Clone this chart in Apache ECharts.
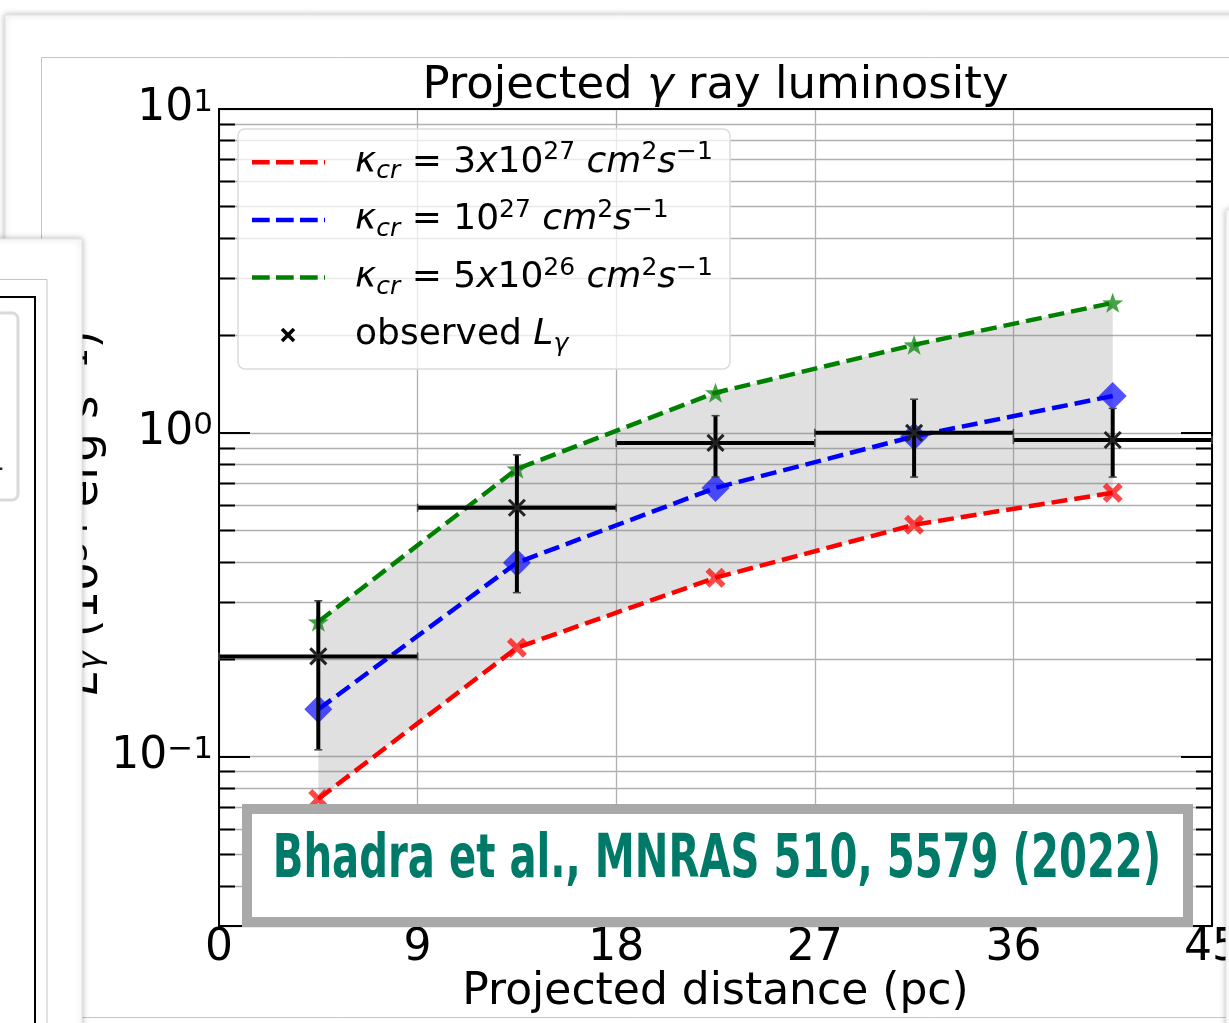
<!DOCTYPE html>
<html>
<head>
<meta charset="utf-8">
<title>Projected γ ray luminosity</title>
<script src="https://cdn.jsdelivr.net/npm/echarts@6/dist/echarts.min.js"></script>
<style>
  html, body { margin: 0; padding: 0; background: #fff; }
  #chart { width: 1229px; height: 1023px; }
</style>
</head>
<body>
<div id="chart"></div>
<script>
// Projected distance bins (pc)
const binLow = [0, 9, 18, 27, 36];
const binHigh = [9, 18, 27, 36, 45];
const binCenter = [4.5, 13.5, 22.5, 31.5, 40.5];

// Model luminosities for three cosmic-ray diffusion coefficients
const lumKappa3e27 = [0.074, 0.217, 0.357, 0.52, 0.653];
const lumKappa1e27 = [0.14, 0.397, 0.676, 0.975, 1.30];
const lumKappa5e26 = [0.261, 0.774, 1.33, 1.87, 2.52];

// Observed luminosity and its error range
const obsLum = [0.204, 0.587, 0.931, 1.0, 0.95];
const obsLumLow = [0.105, 0.321, 0.73, 0.73, 0.73];
const obsLumHigh = [0.303, 0.855, 1.13, 1.27, 1.19];

// Axis ticks
const xTicks = [0, 9, 18, 27, 36, 45];
const yRange = [0.03, 10];
const yMinorTicks = [0.04, 0.05, 0.06, 0.07, 0.08, 0.09,
                     0.2, 0.3, 0.4, 0.5, 0.6, 0.7, 0.8, 0.9,
                     2, 3, 4, 5, 6, 7, 8, 9];

const FONT = 'DejaVu Sans';
const GRID_GRAY = '#b0b0b0';

const X_PATH = 'path://M2,0 L5,3 L8,0 L10,2 L7,5 L10,8 L8,10 L5,7 L2,10 L0,8 L3,5 L0,2 Z';
const STAR_PATH = 'path://M10,0 L12.35,6.76 L19.51,6.91 L13.8,11.24 L15.88,18.09 L10,14 L4.12,18.09 L6.2,11.24 L0.49,6.91 L7.65,6.76 Z';

const chart = echarts.init(document.getElementById('chart'));

const pairs = ys => binCenter.map((x, i) => [x, ys[i]]);

// rich styles for math-like text
const legendRich = {
  n:  { fontFamily: FONT, fontSize: 36, lineHeight: 44, verticalAlign: 'middle', fill: '#000' },
  i:  { fontFamily: FONT, fontSize: 36, fontStyle: 'italic', lineHeight: 44, verticalAlign: 'middle', fill: '#000' },
  sp: { fontFamily: FONT, fontSize: 25, lineHeight: 27, verticalAlign: 'top', fill: '#000' },
  sb: { fontFamily: FONT, fontSize: 25, fontStyle: 'italic', lineHeight: 26, verticalAlign: 'bottom', fill: '#000' }
};

const legendRows = [
  { color: '#ff0000', text: '{i|κ}{sb|cr}{n| = 3}{i|x}{n|10}{sp|27}{n| }{i|cm}{sp|2}{i|s}{sp|−1}' },
  { color: '#0000ff', text: '{i|κ}{sb|cr}{n| = 10}{sp|27}{n| }{i|cm}{sp|2}{i|s}{sp|−1}' },
  { color: '#008000', text: '{i|κ}{sb|cr}{n| = 5}{i|x}{n|10}{sp|26}{n| }{i|cm}{sp|2}{i|s}{sp|−1}' },
  { color: null, text: '{n|observed }{i|L}{sb|γ}' }
];

const legendTop = 129, legendRowGap = 57.6, legendFirstRow = 162.3;
const legendGraphics = [{
  type: 'rect', z: 50, silent: true,
  shape: { x: 238, y: legendTop, width: 492, height: 240, r: 7 },
  style: { fill: 'rgba(255,255,255,0.72)', stroke: '#dcdcdc', lineWidth: 1.5 }
}];
legendRows.forEach((row, k) => {
  const cy = legendFirstRow + k * legendRowGap;
  if (row.color) {
    legendGraphics.push({
      type: 'line', z: 51, silent: true,
      shape: { x1: 252, y1: cy, x2: 325, y2: cy },
      style: { stroke: row.color, lineWidth: 4.5, lineDash: [17.7, 6.3] }
    });
  } else {
    legendGraphics.push({
      type: 'group', z: 51, silent: true, x: 288, y: cy,
      children: [
        { type: 'line', z: 51, shape: { x1: -6, y1: -6, x2: 6, y2: 6 }, style: { stroke: '#000', lineWidth: 3.5 } },
        { type: 'line', z: 51, shape: { x1: -6, y1: 6, x2: 6, y2: -6 }, style: { stroke: '#000', lineWidth: 3.5 } }
      ]
    });
  }
  legendGraphics.push({
    type: 'text', z: 52, silent: true, x: 355, y: cy,
    style: { text: row.text, rich: legendRich, align: 'left', verticalAlign: 'middle', fill: '#000' }
  });
});

// surrounding slide panels
const panelGraphics = [
  { type: 'rect', z: -10, silent: true, shape: { x: 5, y: 15, width: 1400, height: 1200 },
    style: { fill: '#fff', stroke: '#e4e4e4', lineWidth: 1, shadowBlur: 6, shadowColor: 'rgba(0,0,0,0.28)' } },
  { type: 'rect', z: -9, silent: true, shape: { x: 41.5, y: 57.5, width: 1400, height: 960 },
    style: { fill: 'none', stroke: '#c4c4c4', lineWidth: 1 } },
  // right card
  { type: 'rect', z: 90, silent: true, shape: { x: 1226, y: 210, width: 200, height: 900 },
    style: { fill: '#fff', stroke: '#e6e6e6', lineWidth: 1, shadowBlur: 6, shadowColor: 'rgba(0,0,0,0.25)' } },
  // left card
  { type: 'rect', z: 90, silent: true, shape: { x: -200, y: 239, width: 282, height: 900 },
    style: { fill: '#fff', stroke: '#e6e6e6', lineWidth: 1, shadowBlur: 6, shadowColor: 'rgba(0,0,0,0.28)' } },
  { type: 'rect', z: 91, silent: true, shape: { x: -200, y: 279.5, width: 247, height: 900 },
    style: { fill: 'none', stroke: '#c4c4c4', lineWidth: 1 } },
  { type: 'rect', z: 91, silent: true, shape: { x: -200, y: 297, width: 235, height: 900 },
    style: { fill: 'none', stroke: '#000', lineWidth: 2 } },
  { type: 'rect', z: 91, silent: true, shape: { x: -40, y: 313, width: 58, height: 187, r: 6 },
    style: { fill: 'none', stroke: '#dadada', lineWidth: 3 } },
  { type: 'text', z: 92, silent: true, x: -14, y: 462,
    style: { text: '1', fontFamily: FONT, fontSize: 30, fill: '#222', align: 'left', verticalAlign: 'middle' } }
];

// citation banner
const citationGraphics = [
  { type: 'rect', z: 100, silent: true, shape: { x: 247, y: 809, width: 941, height: 113 },
    style: { fill: '#fff', stroke: '#a9a9a9', lineWidth: 10 } },
  { type: 'text', z: 101, silent: true, x: 717, y: 861, scaleX: 0.67, scaleY: 1,
    style: { text: 'Bhadra et al., MNRAS 510, 5579 (2022)', fontFamily: FONT, fontWeight: 'bold',
             fontSize: 60, fill: '#007a68', align: 'center', verticalAlign: 'middle' } }
];

// title and vertical axis title
const titleGraphics = [
  {
    type: 'text', z: 10, silent: true, x: 715.5, y: 86.5,
    style: {
      text: '{n|Projected }{g|γ}{n| ray luminosity}', align: 'center', verticalAlign: 'middle',
      rich: {
        n: { fontFamily: FONT, fontSize: 45, lineHeight: 45, fill: '#000' },
        g: { fontFamily: FONT, fontSize: 45, fontStyle: 'italic', lineHeight: 45, fill: '#000' }
      }
    }
  },
  {
    type: 'text', z: 10, silent: true, x: 85.5, y: 513, rotation: Math.PI / 2,
    style: {
      text: '{i|L}{sb|γ}{n| (10}{sp|34}{n| erg s}{sp|−1}{n|)}', align: 'center', verticalAlign: 'middle',
      rich: {
        n:  { fontFamily: FONT, fontSize: 45, lineHeight: 45, verticalAlign: 'middle', fill: '#000' },
        i:  { fontFamily: FONT, fontSize: 45, fontStyle: 'italic', lineHeight: 45, verticalAlign: 'middle', fill: '#000' },
        sp: { fontFamily: FONT, fontSize: 32, lineHeight: 30, verticalAlign: 'top', fill: '#000' },
        sb: { fontFamily: FONT, fontSize: 32, fontStyle: 'italic', lineHeight: 30, verticalAlign: 'bottom', fill: '#000' }
      }
    }
  }
];

const yLabelRich = {
  b: { fontFamily: FONT, fontSize: 44, lineHeight: 44, verticalAlign: 'middle', color: '#000' },
  s: { fontFamily: FONT, fontSize: 31, lineHeight: 20, verticalAlign: 'top', color: '#000' }
};

function powerLabel(v) {
  const lg = Math.log10(v);
  const e = Math.round(lg);
  if (Math.abs(lg - e) > 1e-6) return '';
  return '{b|10}{s|' + (e < 0 ? '−' + (-e) : String(e)) + '}';
}

const axisBlack = { show: true, onZero: false, lineStyle: { color: '#000', width: 2 } };

const option = {
  backgroundColor: '#fff',
  animation: false,
  grid: { left: 219, top: 109, width: 993, height: 817, containLabel: false, outerBoundsMode: 'none' },
  xAxis: [
    {
      type: 'value', position: 'bottom',
      min: xTicks[0], max: xTicks[xTicks.length - 1], interval: xTicks[1] - xTicks[0],
      axisLine: axisBlack,
      axisTick: { show: true, inside: true, length: 31, lineStyle: { color: '#000', width: 2 } },
      axisLabel: { fontFamily: FONT, fontSize: 44, color: '#000', margin: 1, lineHeight: 44,
                   showMinLabel: true, showMaxLabel: true },
      splitLine: { show: true, lineStyle: { color: GRID_GRAY, width: 1.3 } },
      name: 'Projected distance (pc)', nameLocation: 'middle', nameGap: 45, nameMoveOverlap: false,
      nameTextStyle: { fontFamily: FONT, fontSize: 44, lineHeight: 44, color: '#000' }
    },
    {
      type: 'value', position: 'top',
      min: xTicks[0], max: xTicks[xTicks.length - 1], interval: xTicks[1] - xTicks[0],
      axisLine: axisBlack, axisTick: { show: false }, axisLabel: { show: false }, splitLine: { show: false }
    }
  ],
  yAxis: [
    {
      type: 'log', logBase: 10, position: 'left', min: yRange[0], max: yRange[1],
      axisLine: axisBlack,
      axisTick: { show: true, inside: true, length: 31, lineStyle: { color: '#000', width: 2 } },
      axisLabel: { formatter: powerLabel, rich: yLabelRich, margin: 6, showMinLabel: true, showMaxLabel: true },
      splitLine: { show: true, lineStyle: { color: GRID_GRAY, width: 1.3 } }
    },
    {
      type: 'log', logBase: 10, position: 'right', min: yRange[0], max: yRange[1],
      axisLine: axisBlack,
      axisTick: { show: true, inside: true, length: 31, lineStyle: { color: '#000', width: 2 } },
      axisLabel: { show: false }, splitLine: { show: false }
    }
  ],
  graphic: { elements: [].concat(panelGraphics, titleGraphics, legendGraphics, citationGraphics) },
  series: [
    {
      // minor grid lines and minor ticks of the log axis
      type: 'custom', name: 'minor grid', silent: true, z: 1, clip: false,
      xAxisIndex: 0, yAxisIndex: 0,
      data: yMinorTicks.map(v => [xTicks[0], v]),
      encode: { x: 0, y: 1 },
      renderItem(params, api) {
        const cs = params.coordSys;
        const y = Math.round(api.coord([api.value(0), api.value(1)])[1]) + 0.5;
        return {
          type: 'group',
          children: [
            { type: 'line', shape: { x1: cs.x, y1: y, x2: cs.x + cs.width, y2: y }, style: { stroke: GRID_GRAY, lineWidth: 1.3 } },
            { type: 'line', shape: { x1: cs.x, y1: y, x2: cs.x + 16, y2: y }, style: { stroke: '#000', lineWidth: 2 } },
            { type: 'line', shape: { x1: cs.x + cs.width - 16, y1: y, x2: cs.x + cs.width, y2: y }, style: { stroke: '#000', lineWidth: 2 } }
          ]
        };
      }
    },
    {
      // shaded band between the fastest and slowest diffusion models
      type: 'custom', name: 'model range', silent: true, z: 2,
      xAxisIndex: 0, yAxisIndex: 0,
      data: [[binCenter[0], lumKappa3e27[0]]],
      encode: { x: 0, y: 1 },
      renderItem(params, api) {
        const pts = binCenter.map((x, i) => api.coord([x, lumKappa5e26[i]]));
        for (let i = binCenter.length - 1; i >= 0; i--) pts.push(api.coord([binCenter[i], lumKappa3e27[i]]));
        return { type: 'polygon', shape: { points: pts }, style: { fill: 'rgba(120,120,120,0.23)' } };
      }
    },
    {
      type: 'line', name: 'κcr = 3x10^27 cm^2 s^-1', z: 3, data: pairs(lumKappa3e27),
      lineStyle: { color: '#ff0000', width: 4.5, type: [16, 7] },
      symbol: X_PATH, symbolSize: 20, symbolKeepAspect: true,
      itemStyle: { color: 'rgba(255,0,0,0.72)' }
    },
    {
      type: 'line', name: 'κcr = 10^27 cm^2 s^-1', z: 3, data: pairs(lumKappa1e27),
      lineStyle: { color: '#0000ff', width: 4.5, type: [16, 7] },
      symbol: 'diamond', symbolSize: [28, 28],
      itemStyle: { color: 'rgba(0,0,255,0.68)' }
    },
    {
      type: 'line', name: 'κcr = 5x10^26 cm^2 s^-1', z: 3, data: pairs(lumKappa5e26),
      lineStyle: { color: '#008000', width: 4.5, type: [16, 7] },
      symbol: STAR_PATH, symbolSize: 21, symbolKeepAspect: true,
      itemStyle: { color: 'rgba(0,128,0,0.72)' }
    },
    {
      // observed luminosity with bin width and error range
      type: 'custom', name: 'observed Lγ', z: 4, clip: false,
      xAxisIndex: 0, yAxisIndex: 0,
      data: binCenter.map((x, i) => [x, obsLum[i], obsLumLow[i], obsLumHigh[i], binLow[i], binHigh[i]]),
      encode: { x: 0, y: 1 },
      renderItem(params, api) {
        const c = api.coord([api.value(0), api.value(1)]);
        const lo = api.coord([api.value(0), api.value(2)]);
        const hi = api.coord([api.value(0), api.value(3)]);
        const l = api.coord([api.value(4), api.value(1)]);
        const r = api.coord([api.value(5), api.value(1)]);
        const bar = { stroke: '#000', lineWidth: 4 };
        const cap = { stroke: '#444', lineWidth: 1.5 };
        const mk = { stroke: '#222', lineWidth: 3 };
        const s = 8;
        return {
          type: 'group',
          children: [
            { type: 'line', shape: { x1: l[0], y1: c[1], x2: r[0], y2: c[1] }, style: bar },
            { type: 'line', shape: { x1: c[0], y1: lo[1], x2: c[0], y2: hi[1] }, style: bar },
            { type: 'line', shape: { x1: c[0] - 4, y1: lo[1], x2: c[0] + 4, y2: lo[1] }, style: cap },
            { type: 'line', shape: { x1: c[0] - 4, y1: hi[1], x2: c[0] + 4, y2: hi[1] }, style: cap },
            { type: 'line', shape: { x1: l[0], y1: c[1] - 4, x2: l[0], y2: c[1] + 4 }, style: cap },
            { type: 'line', shape: { x1: r[0], y1: c[1] - 4, x2: r[0], y2: c[1] + 4 }, style: cap },
            { type: 'line', shape: { x1: c[0] - s, y1: c[1] - s, x2: c[0] + s, y2: c[1] + s }, style: mk },
            { type: 'line', shape: { x1: c[0] - s, y1: c[1] + s, x2: c[0] + s, y2: c[1] - s }, style: mk }
          ]
        };
      }
    }
  ]
};

chart.setOption(option);
</script>
</body>
</html>
